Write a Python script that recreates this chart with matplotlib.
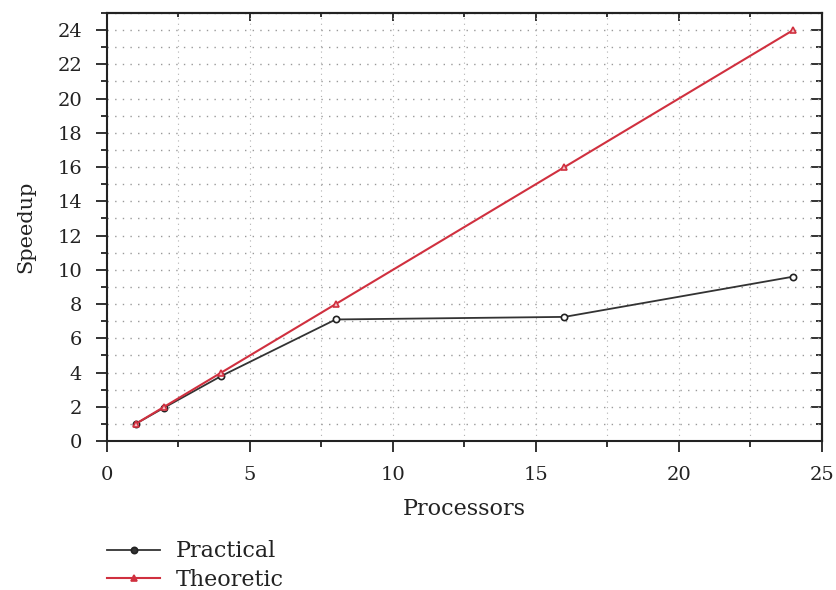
import matplotlib
matplotlib.use("Agg")
import matplotlib.pyplot as plt
from matplotlib.ticker import MultipleLocator

processors = [1, 2, 4, 8, 16, 24]
practical = [1.0, 1.95, 3.8, 7.1, 7.25, 9.6]
theoretic = [1, 2, 4, 8, 16, 24]

plt.rcParams['font.family'] = ['DejaVu Serif']

fig = plt.figure(figsize=(8.36, 5.9), dpi=100)
ax = fig.add_axes([0.128, 0.2525, 0.855, 0.7255])

ax.plot(processors, practical, color='#333333', lw=1.3, marker='o', ms=4.5,
        mfc='white', mec='#222222', mew=1.2, label='Practical')
ax.plot(processors, theoretic, color='#d0303f', lw=1.5, marker='^', ms=5,
        mfc='#f4c0c6', mec='#d0303f', mew=1.2, label='Theoretic')

ax.set_xlim(0, 25)
ax.set_ylim(0, 25)
ax.xaxis.set_major_locator(MultipleLocator(5))
ax.xaxis.set_minor_locator(MultipleLocator(2.5))
ax.set_yticks(range(0, 25, 2))
ax.yaxis.set_minor_locator(MultipleLocator(1))

ax.grid(which='both', axis='y', color='#9a9a9a', linestyle=(0, (1, 4.5)), lw=1.0)
ax.grid(which='both', axis='x', color='#b0b0b0', linestyle=(0, (1, 4)), lw=0.8)
ax.set_axisbelow(True)

ax.tick_params(which='both', direction='out', labelsize=14, width=1.3, color='#222222',
               labelcolor='#222222')
ax.tick_params(which='major', length=8, pad=10)
ax.tick_params(which='minor', length=4)

# inward ticks on top and right
top = ax.secondary_xaxis('top')
top.xaxis.set_major_locator(MultipleLocator(5))
top.xaxis.set_minor_locator(MultipleLocator(2.5))
top.tick_params(which='both', direction='in', labeltop=False, width=1.3, color='#222222')
top.tick_params(which='major', length=6)
top.tick_params(which='minor', length=3)
right = ax.secondary_yaxis('right')
right.set_yticks(range(0, 25, 2))
right.yaxis.set_minor_locator(MultipleLocator(1))
right.tick_params(which='both', direction='in', labelright=False, width=1.3, color='#222222')
right.tick_params(which='major', length=8)
right.tick_params(which='minor', length=4)
for sec in (top, right):
    for s in sec.spines.values():
        s.set_linewidth(1.5)
        s.set_color('#222222')

for s in ax.spines.values():
    s.set_linewidth(1.5)
    s.set_color('#222222')

ax.set_xlabel('Processors', fontsize=16, labelpad=10, color='#222222')
ax.set_ylabel('Speedup', fontsize=15, labelpad=16, color='#222222')

leg = ax.legend(loc='upper left', bbox_to_anchor=(0.0, -0.232), frameon=False,
                fontsize=16, handlelength=2.4, handletextpad=0.7,
                labelspacing=0.3, borderaxespad=0, borderpad=0)
for t in leg.get_texts():
    t.set_color('#222222')
for h in leg.legend_handles:
    h.set_markerfacecolor(h.get_color())

fig.savefig('out.png', dpi=100)
